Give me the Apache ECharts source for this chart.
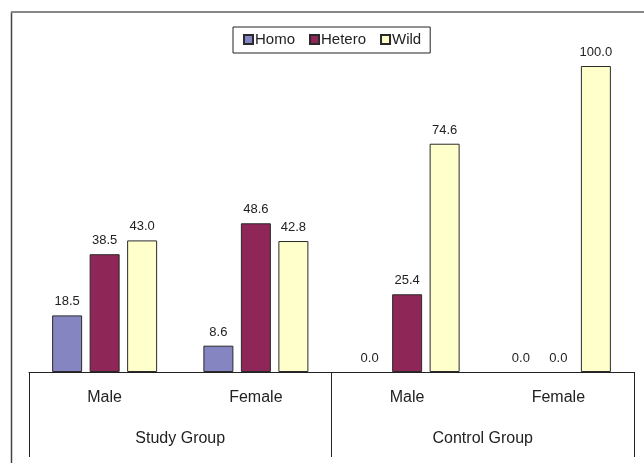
<!DOCTYPE html>
<html>
<head>
<meta charset="utf-8">
<script src="https://cdn.jsdelivr.net/npm/echarts@6/dist/echarts.min.js"></script>
<style>
  html, body { margin: 0; padding: 0; background: #fff; }
  #chart { width: 644px; height: 463px; }
</style>
</head>
<body>
<div id="chart"></div>
<script>
// Genotype distribution (%) by sex within each group
const subCategories = ['Male', 'Female', 'Male', 'Female'];
const groupCategories = ['Study Group', 'Control Group'];
const homo = [18.5, 8.6, 0.0, 0.0];
const hetero = [38.5, 48.6, 25.4, 0.0];
const wild = [43.0, 42.8, 74.6, 100.0];

const FONT = '"Liberation Sans", Arial, sans-serif';
const TEXT = '#222';

function barSeries(name, data, color) {
  return {
    name: name,
    type: 'bar',
    // zero-height bars get no outline so only their label shows
    data: data.map(v => ({ value: v, itemStyle: v === 0 ? { borderWidth: 0 } : undefined })),
    barWidth: 30,
    barGap: '25%',
    itemStyle: { color: color, borderColor: '#2a2a2a', borderWidth: 1 },
    label: {
      show: true,
      position: 'top',
      distance: 7,
      color: TEXT,
      fontFamily: FONT,
      fontSize: 13,
      formatter: p => p.value.toFixed(1)
    }
  };
}

const chart = echarts.init(document.getElementById('chart'));
chart.setOption({
  animation: false,
  backgroundColor: '#fff',
  textStyle: { fontFamily: FONT },
  legend: {
    top: 27,
    left: 233,
    itemWidth: 9,
    itemHeight: 9,
    itemGap: 14,
    icon: 'rect',
    borderColor: '#222',
    borderWidth: 1,
    padding: [5, 9, 6, 10],
    textStyle: { color: TEXT, fontSize: 15, fontFamily: FONT, padding: [0, 0, 0, -3] },
    data: ['Homo', 'Hetero', 'Wild']
  },
  grid: { left: 29, right: 10, top: 66, bottom: 91 },
  xAxis: [
    {
      type: 'category',
      data: subCategories,
      position: 'bottom',
      axisLine: { show: true, lineStyle: { color: '#222', width: 1 } },
      axisTick: { show: false },
      axisLabel: { margin: 18, color: TEXT, fontSize: 16, fontFamily: FONT }
    },
    {
      type: 'category',
      data: groupCategories,
      position: 'bottom',
      axisLine: { show: false },
      axisTick: { show: true, length: 85, lineStyle: { color: '#222', width: 1 } },
      axisLabel: { margin: 59, color: TEXT, fontSize: 16, fontFamily: FONT }
    }
  ],
  yAxis: { type: 'value', min: 0, max: 100, show: false },
  series: [
    barSeries('Homo', homo, '#8585c2'),
    barSeries('Hetero', hetero, '#8e2657'),
    barSeries('Wild', wild, '#ffffcc')
  ],
  graphic: [
    { type: 'line', shape: { x1: 11.5, y1: 12, x2: 11.5, y2: 463 }, style: { stroke: '#444', lineWidth: 1.5 } },
    { type: 'line', shape: { x1: 11, y1: 12, x2: 644, y2: 12 }, style: { stroke: '#888', lineWidth: 2 } }
  ]
});
</script>
</body>
</html>
